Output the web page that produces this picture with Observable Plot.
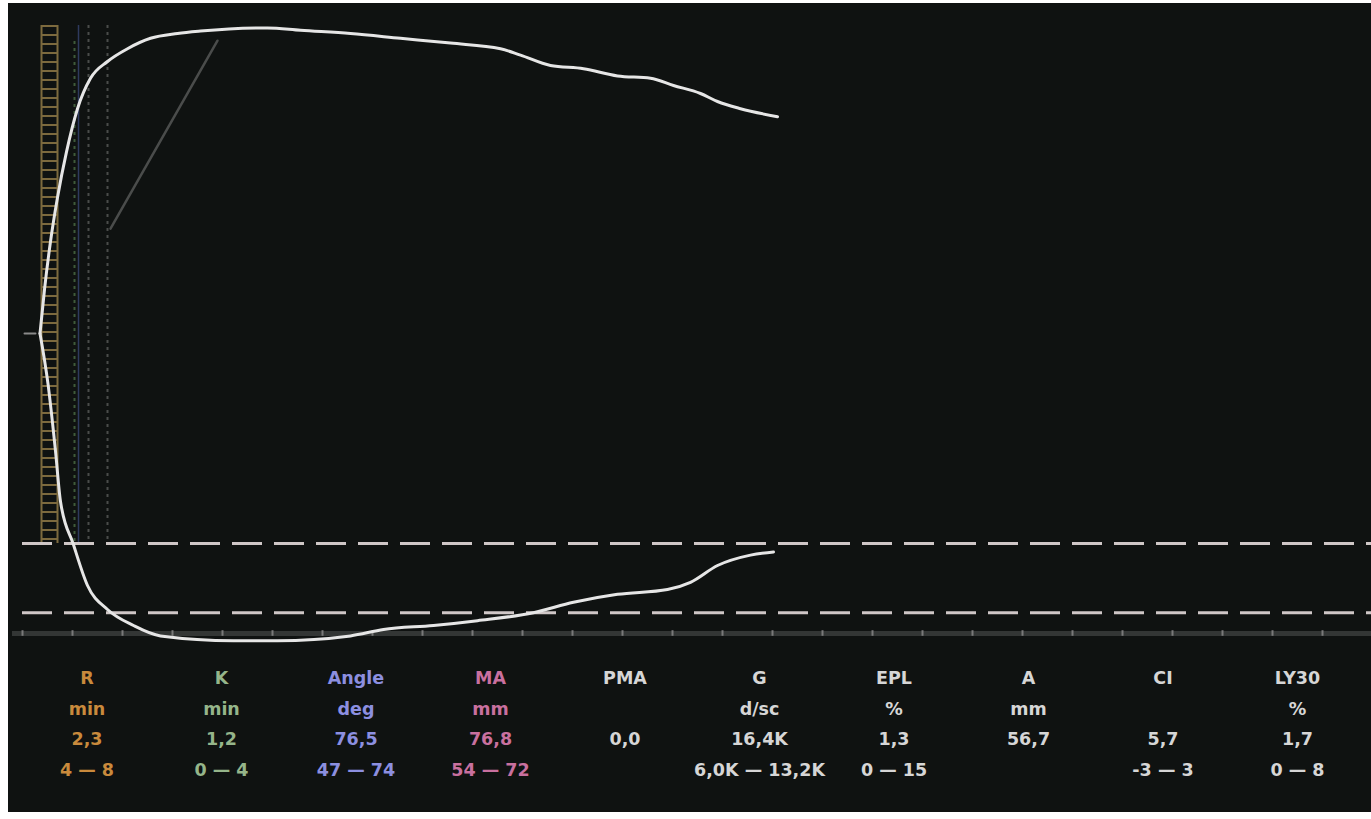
<!DOCTYPE html>
<html><head><meta charset="utf-8">
<script src="https://cdn.jsdelivr.net/npm/d3@7"></script>
<script src="https://cdn.jsdelivr.net/npm/@observablehq/plot@0.6"></script>
<style>
html,body{margin:0;padding:0;background:#ffffff;}
#panel{position:absolute;left:8px;top:3px;width:1363px;height:809px;background:#0f1211;overflow:hidden;}
#chart{position:absolute;left:0;top:0;}
#legend{position:absolute;left:11.75px;top:660px;display:grid;grid-template-columns:repeat(10,134.5px);font:bold 17.5px "DejaVu Sans",sans-serif;}
.col{text-align:center;}
.col div{height:30.5px;line-height:30.5px;white-space:nowrap;}
</style></head>
<body><div id="panel"><div id="chart"></div><div id="legend"></div></div>
<script>
// Trace (time in minutes, displacement in mm from centre line)
const baselineTime = [0.2, 1.3];
const upperTime = [1.75, 2.2, 2.8, 3.5, 4.4, 5.5, 6.8, 8.5, 10.5, 12.8, 15.5, 17.8, 24.5, 27.8, 32.8, 37.8, 42.8, 47.8, 49.8, 52.8, 56.1, 59.5, 62.8, 65.1, 67.8, 69.5, 71.8, 75.5];
const upperMm   = [0, 5.5, 11.5, 17.0, 22.7, 28.1, 31.9, 34.0, 35.6, 36.9, 37.5, 37.8, 38.2, 37.9, 37.5, 36.9, 36.3, 35.6, 34.8, 33.5, 33.1, 32.2, 31.9, 31.0, 30.0, 29.0, 28.1, 27.1];
const lowerTime = [1.75, 2.55, 3.3, 3.8, 5.1, 6.5, 8.5, 11.1, 13.8, 21.1, 25.5, 32.8, 36.1, 41.1, 45.5, 51.1, 55.1, 59.5, 64.5, 66.8, 69.5, 72.8, 75.1];
const lowerMm   = [0, -6.3, -14.7, -21.0, -26.4, -31.5, -34.5, -36.5, -37.8, -38.4, -38.4, -37.8, -37.0, -36.5, -35.9, -34.9, -33.6, -32.6, -32.0, -31.1, -29.0, -27.7, -27.3];

// Reference guides
const dashedLevels = [-26.25, -34.9];
const axisLevel = -37.5;
const tickTimes = [0,5,10,15,20,25,30,35,40,45,50,55,60,65,70,75,80,85,90,95,100,105,110,115,120,125,130];
const guideTop = 38.5;
const ladderEdges = [1.9, 3.5];
const ladderCentre = [2.7];
const greenGuide = [5.2];
const blueGuide = [5.6];
const greyGuides = [6.6, 8.5];
const angleTime = [8.8, 19.5];
const angleMm = [13.1, 36.6];

// Parameter table
const paramNames  = ["R", "K", "Angle", "MA", "PMA", "G", "EPL", "A", "CI", "LY30"];
const paramUnits  = ["min", "min", "deg", "mm", "", "d/sc", "%", "mm", "", "%"];
const paramValues = ["2,3", "1,2", "76,5", "76,8", "0,0", "16,4K", "1,3", "56,7", "5,7", "1,7"];
const paramRanges = ["4 — 8", "0 — 4", "47 — 74", "54 — 72", "", "6,0K — 13,2K", "0 — 15", "", "-3 — 3", "0 — 8"];
const paramColors = ["#c98a3c", "#95b58a", "#8c8fe0", "#c9709f", "#d6d6d6", "#d6d6d6", "#d6d6d6", "#d6d6d6", "#d6d6d6", "#d6d6d6"];

const upper = upperTime.map((t, i) => ({t, mm: upperMm[i]}));
const lower = lowerTime.map((t, i) => ({t, mm: lowerMm[i]}));
const angle = angleTime.map((t, i) => ({t, mm: angleMm[i]}));
const baseline = baselineTime.map(t => ({t, mm: 0}));
const xMax = 134.9;

const chart = Plot.plot({
  width: 1363, height: 645,
  marginLeft: 14, marginRight: 0, marginTop: 0, marginBottom: 0,
  style: {background: "transparent"},
  x: {domain: [0, xMax], axis: null},
  y: {domain: [-39.375, 41.25], axis: null},
  marks: [
    Plot.ruleY([axisLevel], {x1: -1, x2: xMax, stroke: "#333635", strokeWidth: 5}),
    Plot.ruleX(tickTimes, {x: d => d, y1: axisLevel - 0.35, y2: axisLevel + 0.35, stroke: "#7a7a7a", strokeWidth: 2}),
    Plot.ruleX(ladderCentre, {y1: guideTop, y2: dashedLevels[0], stroke: "#7d6a3e", strokeWidth: 16, strokeDasharray: "2,7"}),
    Plot.ruleX(ladderEdges, {y1: guideTop, y2: dashedLevels[0], stroke: "#7d6a3e", strokeWidth: 2}),
    Plot.ruleX(greenGuide, {y1: guideTop - 2, y2: dashedLevels[0], stroke: "#3f5a3a", strokeWidth: 2, strokeDasharray: "3,4"}),
    Plot.ruleX(blueGuide, {y1: guideTop, y2: dashedLevels[0], stroke: "#2e3a5e", strokeWidth: 1.5}),
    Plot.ruleX(greyGuides, {y1: guideTop, y2: dashedLevels[0], stroke: "#4a4c4b", strokeWidth: 2, strokeDasharray: "3,4"}),
    Plot.line(angle, {x: "t", y: "mm", stroke: "#4a4c4b", strokeWidth: 2.5}),
    Plot.ruleY(dashedLevels, {x1: 0, x2: xMax, stroke: "#cfc7c7", strokeWidth: 3, strokeDasharray: "30,12"}),
    Plot.line(baseline, {x: "t", y: "mm", stroke: "#8a8a8a", strokeWidth: 2}),
    Plot.line(upper, {x: "t", y: "mm", stroke: "#e6e6e6", strokeWidth: 3, curve: "monotone-x"}),
    Plot.line(lower, {x: "t", y: "mm", stroke: "#e6e6e6", strokeWidth: 3, curve: "monotone-x"})
  ]
});
document.getElementById("chart").appendChild(chart);

const legend = document.getElementById("legend");
paramNames.forEach((name, i) => {
  const col = document.createElement("div");
  col.className = "col";
  col.style.color = paramColors[i];
  [name, paramUnits[i], paramValues[i], paramRanges[i]].forEach(txt => {
    const r = document.createElement("div");
    r.textContent = txt;
    col.appendChild(r);
  });
  legend.appendChild(col);
});
</script>
</body></html>
